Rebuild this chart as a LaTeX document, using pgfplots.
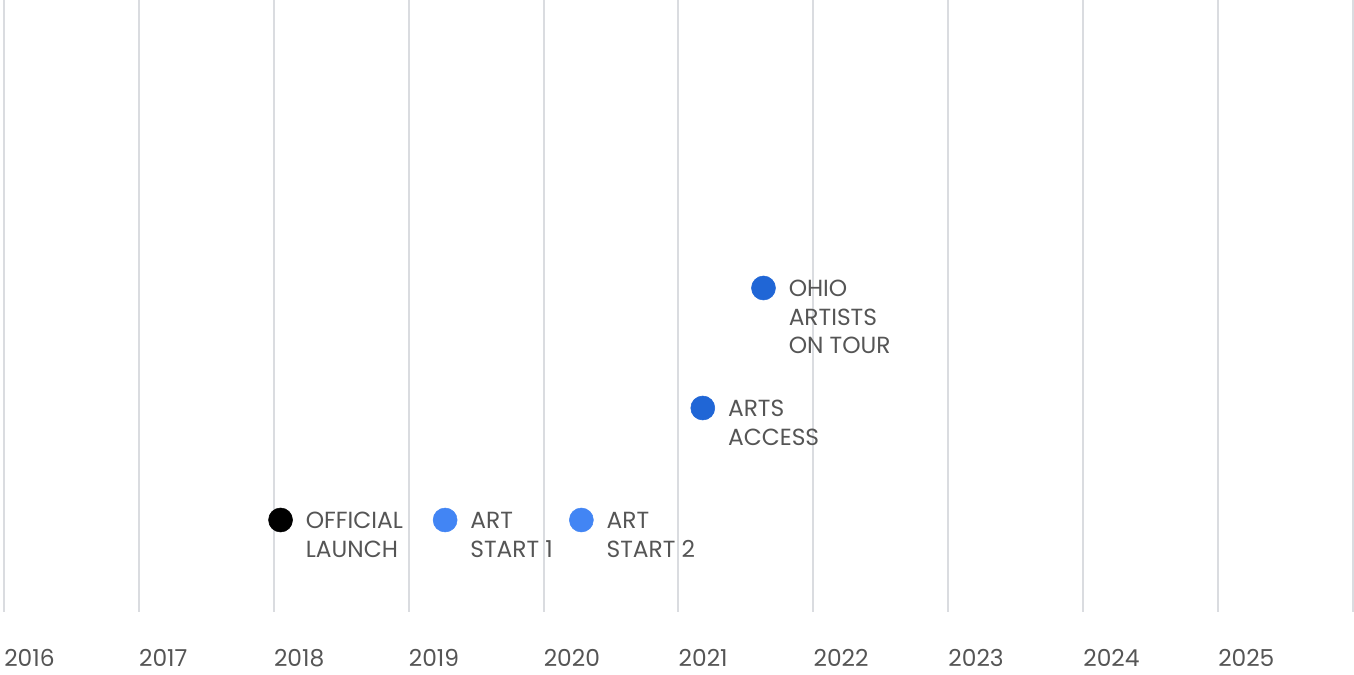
\documentclass[border=0pt]{standalone}
\usepackage{fontspec}
\setmainfont{Poppins}
\usepackage{pgfplots}
\pgfplotsset{compat=1.18}
\usetikzlibrary{calc}

\definecolor{gridgray}{HTML}{DADCE0}
\definecolor{txtgray}{HTML}{555555}
\definecolor{lightblue}{HTML}{4285F4}
\definecolor{darkblue}{HTML}{2066D6}

% left-aligned multi-line label, baseline on the first line
\newcommand\lbl[1]{\begin{tabular}[t]{@{}l@{}}#1\end{tabular}}

\begin{document}
\begin{tikzpicture}
\begin{axis}[
    name=ax,
    scale only axis,
    width=1011.75pt,
    height=459pt,
    xmin=2016, xmax=2026,
    ymin=0, ymax=612,
    xtick={2016,...,2026},
    xticklabels={2016,2017,2018,2019,2020,2021,2022,2023,2024,2025,},
    ytick=\empty,
    xmajorgrids,
    grid style={gridgray, line width=1.5pt},
    axis line style={draw=none},
    major tick length=0pt,
    xticklabel style={anchor=north west, inner sep=0pt, yshift=-28pt,
        text=txtgray, font=\fontsize{17.5}{21.75}\selectfont},
    clip=false,
    only marks,
    mark=*,
    mark size=9pt,
    point meta=explicit symbolic,
    nodes near coords,
    nodes near coords style={anchor=base west, inner sep=0pt,
        xshift=18.75pt, yshift=-6.4pt, text=txtgray,
        font=\fontsize{17.5}{21.5}\selectfont},
]
    \addplot[mark=*, draw=black, fill=black] coordinates {
        (2018.05,92) [\lbl{OFFICIAL\\LAUNCH}]
    };
    \addplot[mark=*, draw=lightblue, fill=lightblue] coordinates {
        (2019.27,92) [\lbl{ART\\START 1}]
        (2020.28,92) [\lbl{ART\\START 2}]
    };
    \addplot[mark=*, draw=darkblue, fill=darkblue] coordinates {
        (2021.18,204) [\lbl{ARTS\\ACCESS}]
        (2021.63,324) [\lbl{OHIO\\ARTISTS\\ON TOUR}]
    };
\end{axis}
\pgfresetboundingbox
\path ($(ax.south west)+(-3pt,-47pt)$) rectangle ($(ax.north east)+(0.75pt,0pt)$);
\end{tikzpicture}
\end{document}
